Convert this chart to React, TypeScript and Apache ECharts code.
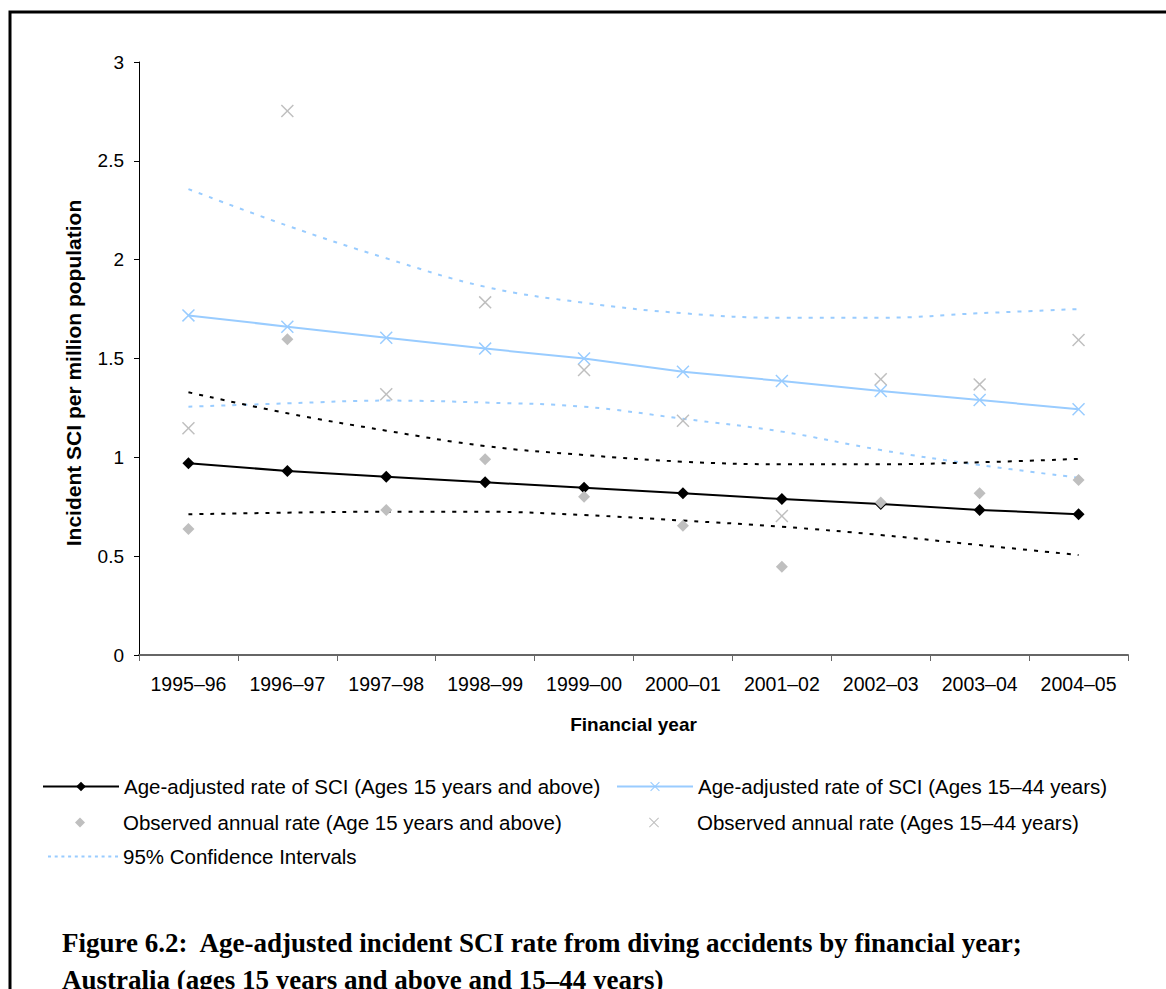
import React, { useEffect, useRef } from "react";
import * as echarts from "echarts";

const categories = ["1995–96", "1996–97", "1997–98", "1998–99", "1999–00", "2000–01", "2001–02", "2002–03", "2003–04", "2004–05"];
const adjusted15plus = [0.97, 0.931, 0.902, 0.874, 0.846, 0.818, 0.789, 0.764, 0.734, 0.712];
const adjusted15to44 = [1.718, 1.661, 1.605, 1.55, 1.5, 1.433, 1.386, 1.336, 1.29, 1.243];
const observed15plus = [0.637, 1.597, 0.734, 0.99, 0.801, 0.654, 0.447, 0.771, 0.818, 0.885];
const observed15to44 = [1.147, 2.752, 1.319, 1.784, 1.442, 1.185, 0.703, 1.395, 1.369, 1.594];
const ci15to44Upper = [2.357, 2.172, 2.007, 1.863, 1.782, 1.729, 1.706, 1.706, 1.729, 1.75];
const ci15to44Lower = [1.256, 1.273, 1.287, 1.277, 1.256, 1.195, 1.13, 1.037, 0.961, 0.897];
const ci15plusUpper = [1.329, 1.223, 1.135, 1.057, 1.012, 0.978, 0.965, 0.965, 0.975, 0.992];
const ci15plusLower = [0.712, 0.72, 0.725, 0.725, 0.708, 0.68, 0.649, 0.607, 0.556, 0.506];

const nameAdj15plus = "Age-adjusted rate of SCI (Ages 15 years and above)";
const nameAdj15to44 = "Age-adjusted rate of SCI (Ages 15–44 years)";
const nameObs15plus = "Observed annual rate (Age 15 years and above)";
const nameObs15to44 = "Observed annual rate (Ages 15–44 years)";
const nameCI = "95% Confidence Intervals";
const nameCIBlack = "95% Confidence Intervals (Ages 15 years and above)";

const yAxisTitle = "Incident SCI per million population";
const xAxisTitle = "Financial year";
const captionLine1 = "Figure 6.2:  Age-adjusted incident SCI rate from diving accidents by financial year;";
const captionLine2 = "Australia (ages 15 years and above and 15–44 years)";

const SANS = "Liberation Sans, Arial, sans-serif";
const SERIF = "Liberation Serif, Times New Roman, serif";
const BLUE = "#99CCFF";
const GRAY = "#BFBFBF";
const XSYM = "path://M0,0.8 L0.8,0 L5,4.2 L9.2,0 L10,0.8 L5.8,5 L10,9.2 L9.2,10 L5,5.8 L0.8,10 L0,9.2 L4.2,5 Z";
const DOT: [number, number] = [4, 7];

// legend icons drawn inside a 76 x 10 box so they keep their proportions
const ICON_DIAMOND = "path://M0,0 L0,0 M76,10 L76,10 M33,5 L38,0 L43,5 L38,10 Z";
const ICON_X =
  "path://M0,0 L0,0 M76,10 L76,10 M33,0.7 L33.7,0 L38,4.3 L42.3,0 L43,0.7 L38.7,5 L43,9.3 L42.3,10 L38,5.7 L33.7,10 L33,9.3 L37.3,5 Z";
function dottedIcon(): string {
  let d = "path://";
  for (let i = 0; i < 11; i++) {
    const x = i * 6.7;
    d += `M${x},0 L${x + 3},0 L${x + 3},2 L${x},2 Z `;
  }
  return d.trim();
}
const ICON_DOTS = dottedIcon();

export default function App() {
  const ref = useRef<HTMLDivElement>(null);
  useEffect(() => {
    if (!ref.current) return;
    const chart = echarts.init(ref.current, null, { renderer: "svg" });
    const legendBase = {
      orient: "horizontal",
      padding: 0,
      selectedMode: false,
      itemHeight: 12,
      itemWidth: 76,
      textStyle: { fontFamily: SANS, fontSize: 20.5, color: "#000" },
    };
    chart.setOption({
      animation: false,
      backgroundColor: "#fff",
      grid: { left: 139, right: 38, top: 62, bottom: 334, containLabel: false },
      xAxis: {
        type: "category",
        data: categories,
        boundaryGap: true,
        name: xAxisTitle,
        nameLocation: "middle",
        nameGap: 60,
        nameTextStyle: { fontFamily: SANS, fontSize: 19, fontWeight: "bold", color: "#000" },
        axisLine: { show: true, lineStyle: { color: "#666", width: 2 } },
        axisTick: { show: true, length: 6, inside: false, alignWithLabel: false, lineStyle: { color: "#666", width: 1 } },
        axisLabel: { fontFamily: SANS, fontSize: 19.5, color: "#000", margin: 19, interval: 0 },
        splitLine: { show: false },
      },
      yAxis: {
        type: "value",
        min: 0,
        max: 3,
        interval: 0.5,
        axisLine: { show: true, lineStyle: { color: "#000", width: 1 } },
        axisTick: { show: true, length: 5, lineStyle: { color: "#000", width: 1 } },
        axisLabel: { fontFamily: SANS, fontSize: 19, color: "#000", margin: 15 },
        splitLine: { show: false },
      },
      legend: [
        { ...legendBase, data: [nameAdj15plus], left: 42, top: 776 },
        { ...legendBase, data: [nameAdj15to44], left: 616, top: 776 },
        { ...legendBase, data: [{ name: nameObs15plus, icon: ICON_DIAMOND }], left: 42, top: 812, itemHeight: 10 },
        { ...legendBase, data: [{ name: nameObs15to44, icon: ICON_X }], left: 616, top: 812, itemHeight: 10 },
        { ...legendBase, data: [{ name: nameCI, icon: ICON_DOTS }], left: 48, top: 846, itemWidth: 70, itemHeight: 2 },
      ],
      graphic: [
        {
          type: "rect",
          shape: { x: 10, y: 12, width: 1300, height: 1200 },
          style: { fill: "none", stroke: "#000", lineWidth: 3 },
          silent: true,
        },
        {
          type: "text",
          x: 73,
          y: 373,
          rotation: Math.PI / 2,
          style: {
            text: yAxisTitle,
            fontFamily: SANS,
            fontSize: 21,
            fontWeight: "bold",
            fill: "#000",
            align: "center",
            verticalAlign: "middle",
          },
        },
        {
          type: "text",
          x: 62,
          y: 943,
          style: {
            text: captionLine1,
            fontFamily: SERIF,
            fontSize: 27,
            fontWeight: "bold",
            fill: "#000",
            align: "left",
            verticalAlign: "middle",
          },
        },
        {
          type: "text",
          x: 62,
          y: 980,
          style: {
            text: captionLine2,
            fontFamily: SERIF,
            fontSize: 27,
            fontWeight: "bold",
            fill: "#000",
            align: "left",
            verticalAlign: "middle",
          },
        },
      ],
      series: [
        {
          name: nameCI,
          type: "line",
          data: ci15to44Upper,
          smooth: 0.4,
          showSymbol: false,
          symbol: "none",
          lineStyle: { color: BLUE, width: 2, type: DOT },
          itemStyle: { color: BLUE },
          z: 1,
        },
        {
          name: nameCI,
          type: "line",
          data: ci15to44Lower,
          smooth: 0.4,
          showSymbol: false,
          symbol: "none",
          lineStyle: { color: BLUE, width: 2, type: DOT },
          itemStyle: { color: BLUE },
          z: 1,
        },
        {
          name: nameCIBlack,
          type: "line",
          data: ci15plusUpper,
          smooth: 0.4,
          showSymbol: false,
          symbol: "none",
          lineStyle: { color: "#000", width: 2, type: DOT },
          itemStyle: { color: "#000" },
          z: 1,
        },
        {
          name: nameCIBlack,
          type: "line",
          data: ci15plusLower,
          smooth: 0.4,
          showSymbol: false,
          symbol: "none",
          lineStyle: { color: "#000", width: 2, type: DOT },
          itemStyle: { color: "#000" },
          z: 1,
        },
        {
          name: nameAdj15to44,
          type: "line",
          data: adjusted15to44,
          symbol: XSYM,
          symbolSize: 13,
          lineStyle: { color: BLUE, width: 2 },
          itemStyle: { color: BLUE },
          z: 2,
        },
        {
          name: nameAdj15plus,
          type: "line",
          data: adjusted15plus,
          symbol: "diamond",
          symbolSize: 12,
          lineStyle: { color: "#000", width: 2 },
          itemStyle: { color: "#000" },
          z: 3,
        },
        {
          name: nameObs15plus,
          type: "scatter",
          data: observed15plus,
          symbol: "diamond",
          symbolSize: 12,
          itemStyle: { color: GRAY, opacity: 1 },
          z: 4,
        },
        {
          name: nameObs15to44,
          type: "scatter",
          data: observed15to44,
          symbol: XSYM,
          symbolSize: 13,
          itemStyle: { color: GRAY, opacity: 1 },
          z: 4,
        },
      ],
    });
    return () => chart.dispose();
  }, []);
  return <div ref={ref} style={{ position: "fixed", left: 0, top: 0, width: 1166, height: 989 }} />;
}
